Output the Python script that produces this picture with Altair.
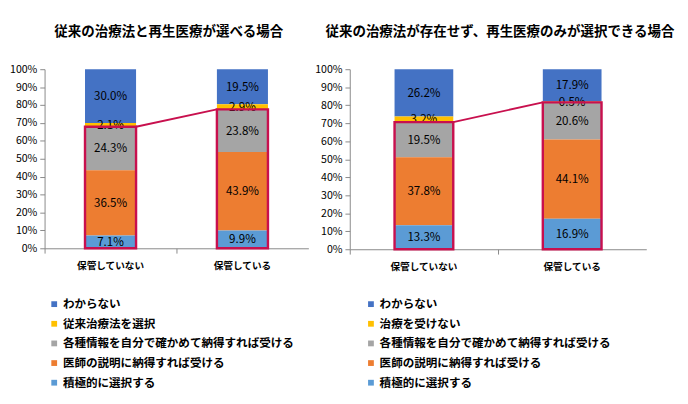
import altair as alt
import pandas as pd

FONT = "Noto Sans CJK JP"
RED = "#C8104E"

cats = ["保管していない", "保管している"]
left_title = "従来の治療法と再生医療が選べる場合"
right_title = "従来の治療法が存在せず、再生医療のみが選択できる場合"
# legend order: top of stack -> bottom of stack
left_labels = ["わからない", "従来治療法を選択", "各種情報を自分で確かめて納得すれば受ける",
               "医師の説明に納得すれば受ける", "積極的に選択する"]
right_labels = ["わからない", "治療を受けない", "各種情報を自分で確かめて納得すれば受ける",
                "医師の説明に納得すれば受ける", "積極的に選択する"]
colors = ["#4472C4", "#FFC000", "#A5A5A5", "#ED7D31", "#5B9BD5"]

left_not = [30.0, 2.1, 24.3, 36.5, 7.1]
left_yes = [19.5, 2.9, 23.8, 43.9, 9.9]
right_not = [26.2, 3.2, 19.5, 37.8, 13.3]
right_yes = [17.9, 0.5, 20.6, 44.1, 16.9]
y_ticks = [0, 10, 20, 30, 40, 50, 60, 70, 80, 90, 100]


def panel(title, labels, vals_a, vals_b, w, h, toff, tdx, lx, ly, pin):
    rows = []
    for cat, vals in zip(cats, [vals_a, vals_b]):
        for i, (lab, v) in enumerate(zip(labels, vals)):
            rows.append({"cat": cat, "resp": lab, "value": v,
                         "order": len(labels) - i, "boxed": i >= 2})
    df = pd.DataFrame(rows)
    tops = [sum(vals_a[2:]), sum(vals_b[2:])]
    link = pd.DataFrame({"from": [cats[0]], "to": [cats[1]],
                         "y_from": [tops[0]], "y_to": [tops[1]]})

    xscale = alt.Scale(domain=cats, paddingInner=pin, paddingOuter=pin / 2)
    yscale = alt.Scale(domain=[0, 100], nice=False)
    tick_bp = -(pin / 2) / (1 - pin)
    xaxis = alt.Axis(labelAngle=0, labelFontWeight="bold", labelFontSize=10,
                     labelFont=FONT, labelColor="#000000", domainColor="#868686",
                     tickColor="#868686", tickSize=5, bandPosition=tick_bp,
                     labelPadding=8, title=None)
    yaxis = alt.Axis(values=y_ticks, labelExpr="datum.value + '%'", grid=False,
                     labelOverlap=False, labelFontSize=11, labelFont=FONT,
                     labelColor="#000000", domainColor="#868686",
                     tickColor="#868686", tickSize=5, labelPadding=3, title=None)

    base = alt.Chart(df).transform_stack(
        stack="value", groupby=["cat"], as_=["y0", "y1"],
        sort=[alt.SortField("order", order="ascending")]
    ).transform_calculate(
        mid="(datum.y0 + datum.y1) / 2",
        lbl="format(datum.value, '.1f') + '%'"
    )

    bars = base.mark_bar().encode(
        x=alt.X("cat:N", scale=xscale, axis=xaxis),
        y=alt.Y("y0:Q", scale=yscale, axis=yaxis),
        y2="y1:Q",
        color=alt.Color("resp:N", scale=alt.Scale(domain=labels, range=colors),
                        legend=alt.Legend(title=None, orient="none", legendX=lx, legendY=ly,
                                          symbolType="square", symbolSize=36,
                                          symbolStrokeWidth=0, labelFontSize=12,
                                          labelFont=FONT, labelFontWeight="bold",
                                          labelColor="#000000", rowPadding=8.4,
                                          labelOffset=3, labelLimit=400)),
    )

    text = base.mark_text(fontSize=12, font=FONT, color="#000000").encode(
        x=alt.X("cat:N", scale=xscale, axis=xaxis),
        y=alt.Y("mid:Q", scale=yscale, axis=yaxis),
        text="lbl:N",
    )

    box = alt.Chart(df).transform_filter("datum.boxed").transform_aggregate(
        top="sum(value)", groupby=["cat"]
    ).mark_bar(fill="#ffffff", fillOpacity=0, stroke=RED, strokeWidth=2.5).encode(
        x=alt.X("cat:N", scale=xscale, axis=xaxis),
        y=alt.Y("top:Q", scale=yscale, stack=None, axis=yaxis),
    )

    line = alt.Chart(link).mark_rule(color=RED, strokeWidth=2).encode(
        x=alt.X("from:N", scale=xscale, bandPosition=1, axis=xaxis),
        x2=alt.X2("to", bandPosition=0),
        y=alt.Y("y_from:Q", scale=yscale, axis=yaxis),
        y2="y_to:Q",
    )

    return alt.layer(bars, text, box, line).properties(
        width=w, height=h,
        title=alt.TitleParams(title, fontSize=14, fontWeight="bold", font=FONT,
                              offset=toff, dx=tdx, anchor="middle", frame="group",
                              color="#000000"),
    )


left = panel(left_title, left_labels, left_not, left_yes, 274, 186, 26, -8, 4, 238, 0.613)
right = panel(right_title, right_labels, right_not, right_yes, 308, 187, 26, 2, 16, 238, 0.604)

chart = alt.hconcat(left, right, spacing=6).resolve_scale(color="independent").properties(
    padding={"left": 1, "top": 10, "right": 5, "bottom": 5}
).configure_view(stroke=None)

chart.save("out.html", embed_options={"renderer": "svg", "actions": False})
